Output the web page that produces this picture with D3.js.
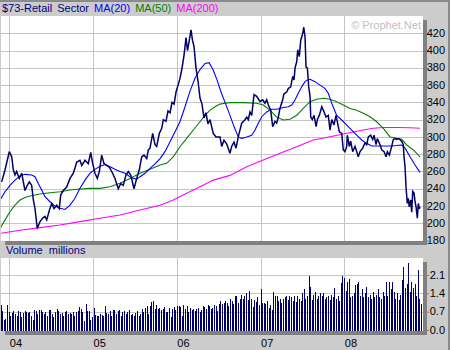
<!DOCTYPE html>
<html><head><meta charset="utf-8">
<script src="https://cdn.jsdelivr.net/npm/d3@7"></script>
<style>
body{margin:0;background:#cccccc}
svg{display:block}
text{font-family:Arial,"Liberation Sans",sans-serif;font-size:11px}
</style>
</head><body><svg width="450" height="350"></svg>
<script>
// ---------- DATA (decimal years / values) ----------
const priceT=[2003.909,2003.949,2004.000,2004.029,2004.048,2004.068,2004.088,2004.119,2004.148,2004.187,2004.215,2004.239,2004.267,2004.287,2004.307,2004.334,2004.367,2004.399,2004.426,2004.447,2004.478,2004.506,2004.534,2004.566,2004.597,2004.614,2004.645,2004.685,2004.725,2004.764,2004.784,2004.805,2004.844,2004.865,2004.904,2004.943,2004.972,2004.996,2005.023,2005.051,2005.075,2005.103,2005.131,2005.163,2005.194,2005.223,2005.262,2005.301,2005.330,2005.361,2005.393,2005.421,2005.450,2005.489,2005.521,2005.552,2005.581,2005.608,2005.641,2005.660,2005.680,2005.712,2005.740,2005.760,2005.791,2005.820,2005.839,2005.871,2005.895,2005.919,2005.943,2005.967,2005.991,2006.015,2006.039,2006.063,2006.087,2006.110,2006.128,2006.146,2006.170,2006.187,2006.205,2006.229,2006.253,2006.277,2006.301,2006.325,2006.348,2006.372,2006.396,2006.436,2006.468,2006.516,2006.536,2006.563,2006.595,2006.635,2006.655,2006.683,2006.707,2006.734,2006.775,2006.814,2006.835,2006.854,2006.874,2006.895,2006.922,2006.954,2006.994,2007.026,2007.053,2007.073,2007.093,2007.121,2007.145,2007.173,2007.193,2007.212,2007.232,2007.264,2007.280,2007.312,2007.331,2007.360,2007.384,2007.400,2007.412,2007.432,2007.444,2007.463,2007.480,2007.504,2007.516,2007.531,2007.543,2007.559,2007.575,2007.591,2007.599,2007.618,2007.639,2007.663,2007.678,2007.702,2007.731,2007.758,2007.782,2007.809,2007.829,2007.850,2007.877,2007.901,2007.916,2007.940,2007.969,2007.988,2008.009,2008.029,2008.036,2008.060,2008.076,2008.100,2008.128,2008.148,2008.167,2008.188,2008.220,2008.247,2008.267,2008.287,2008.315,2008.339,2008.355,2008.379,2008.394,2008.427,2008.447,2008.475,2008.499,2008.514,2008.538,2008.566,2008.585,2008.605,2008.626,2008.645,2008.665,2008.685,2008.704,2008.713,2008.725,2008.737,2008.752,2008.764,2008.776,2008.793,2008.805,2008.817,2008.833,2008.845,2008.857,2008.872,2008.884,2008.896,2008.904];
const priceV=[248,262,283,277,262,256,260,252,258,238,244,248,244,227,217,194,202,206,208,204,215,223,217,221,217,233,238,242,252,258,264,271,273,267,273,269,282,269,258,252,260,279,269,267,265,260,252,240,246,244,256,260,256,240,252,262,277,279,275,285,287,304,291,289,304,310,320,318,330,328,340,338,352,360,368,380,395,415,400,410,424,412,405,380,365,345,338,322,328,315,320,304,300,300,289,296,292,281,289,294,287,300,316,320,323,320,329,325,349,347,341,343,339,343,337,331,312,318,316,323,333,343,350,352,356,358,370,366,380,387,401,393,412,420,427,416,381,380,358,347,323,320,325,312,320,325,335,329,323,325,308,320,314,325,318,306,304,285,283,289,302,289,295,283,289,283,277,283,287,293,291,300,302,297,302,291,298,291,285,283,277,283,279,289,297,298,297,298,297,295,291,277,266,242,223,229,219,227,213,237,235,225,219,206,223,217,219];

const ma20T=[2003.889,2003.949,2004.008,2004.068,2004.128,2004.187,2004.267,2004.307,2004.346,2004.387,2004.426,2004.486,2004.546,2004.605,2004.665,2004.725,2004.784,2004.844,2004.904,2004.964,2005.023,2005.083,2005.143,2005.203,2005.262,2005.322,2005.382,2005.441,2005.481,2005.521,2005.561,2005.620,2005.680,2005.740,2005.800,2005.859,2005.919,2005.979,2006.038,2006.098,2006.158,2006.217,2006.277,2006.337,2006.385,2006.432,2006.480,2006.528,2006.576,2006.635,2006.683,2006.734,2006.775,2006.835,2006.894,2006.934,2006.973,2007.014,2007.073,2007.133,2007.193,2007.232,2007.272,2007.331,2007.372,2007.411,2007.451,2007.491,2007.531,2007.558,2007.591,2007.650,2007.710,2007.770,2007.809,2007.850,2007.909,2007.969,2008.029,2008.088,2008.148,2008.208,2008.267,2008.327,2008.387,2008.447,2008.506,2008.566,2008.626,2008.685,2008.725,2008.785,2008.845,2008.904];
const ma20V=[227,236.6,244,250,254.8,256.7,256,254,246,238.5,230.8,225,220,217.4,216,221,229,240.5,250,258,262.5,266,268,265.5,262.5,260,258,254,252,251,254,258,263.7,268.7,275,283,294.5,306,317.6,335,353,368,378,385,386,378,366,352,340,325,312,300,298.4,300,302,308,315.8,323.4,329,332,332,333,334,335,337,342.8,350.5,358,364,366,366.7,364,360,356,350.5,339,325,319.6,313.8,308,302,296.5,292.6,289.5,289.5,289.5,289.5,289.5,290,290.7,287,277,267.5,259];

const ma50T=[2003.889,2003.949,2004.008,2004.068,2004.128,2004.187,2004.247,2004.367,2004.486,2004.605,2004.725,2004.844,2004.964,2005.083,2005.203,2005.322,2005.441,2005.561,2005.680,2005.800,2005.879,2005.958,2006.038,2006.118,2006.197,2006.277,2006.337,2006.397,2006.456,2006.516,2006.576,2006.635,2006.794,2006.954,2007.033,2007.113,2007.193,2007.272,2007.352,2007.432,2007.510,2007.591,2007.670,2007.749,2007.829,2007.909,2007.988,2008.068,2008.148,2008.227,2008.307,2008.387,2008.466,2008.546,2008.626,2008.685,2008.745,2008.824,2008.904];
const ma50V=[194,204,213.4,221,227,230,231.6,234,235.4,236.6,238.5,239.7,240.5,240.5,242.4,246.3,252,258,262.5,267.5,269.5,277,288.7,298.4,308,317.6,325,331,335,338,339,339.7,339.7,339,337,331,323,319.6,320.4,325,333,340.8,343.6,344.7,343.6,340.8,337,333,331,327.4,323.4,317.6,310,300,298.4,297.3,290.7,285,277];

const ma200T=[2003.889,2004.128,2004.367,2004.605,2004.844,2005.083,2005.322,2005.561,2005.800,2005.958,2006.118,2006.277,2006.436,2006.635,2006.835,2007.033,2007.232,2007.432,2007.630,2007.829,2008.029,2008.227,2008.346,2008.466,2008.626,2008.785,2008.904];
const ma200V=[188.4,192,195,198,202,205.8,209.6,215.4,221,227,234.7,242.4,250,255.5,265.5,273.3,281,288.7,296.5,300.3,304.2,308,310,311,311,310.7,310];

const volStart=2003.901; // first weekly bar (decimal year)
const volumeV=[0.95,0.73,0.37,0.42,0.95,0.7,0.55,0.65,0.72,0.6,
0.55,0.72,0.68,0.5,0.65,0.72,0.7,0.65,0.68,0.55,
0.4,0.75,0.72,0.6,0.78,0.75,0.7,0.62,0.68,0.55,
0.75,0.75,0.6,0.5,0.68,0.8,0.72,0.6,0.65,0.55,
0.7,0.72,0.62,0.65,0.6,0.7,0.55,0.68,0.72,0.88,
0.82,0.7,0.35,0.98,0.72,0.72,0.4,0.48,0.85,0.58,
0.52,0.55,0.6,0.58,0.55,0.92,0.65,0.6,0.72,0.55,
0.75,0.75,0.62,0.72,0.75,0.55,0.7,0.72,0.6,0.68,
0.75,0.58,0.6,0.55,0.65,0.72,0.55,0.62,0.8,0.68,
0.85,0.9,0.6,0.92,1.08,1.12,0.8,0.95,0.82,0.85,
0.75,0.82,0.88,0.7,0.68,0.85,0.5,0.82,0.88,0.78,
0.9,0.9,0.88,0.52,0.95,0.82,0.92,0.7,0.85,0.75,
0.82,0.72,0.8,0.85,0.7,0.75,0.9,0.88,0.82,0.95,
0.92,0.8,0.85,0.95,0.9,0.72,1.0,1.12,0.98,1.05,
1.12,1.05,0.92,1.2,1.1,1.0,1.28,1.3,1.05,1.2,
1.35,1.18,1.28,1.4,1.15,1.48,1.2,0.88,1.15,1.08,
1.25,0.95,1.55,1.05,1.05,0.98,1.1,0.85,0.95,0.78,
1.45,1.3,1.3,1.1,1.2,1.05,1.18,1.25,1.3,1.15,
1.3,1.25,1.1,1.3,1.08,1.3,1.2,1.12,1.4,1.55,
1.2,1.3,2.05,1.65,1.15,1.35,1.45,1.2,1.3,1.4,
1.3,1.4,1.2,1.25,1.3,1.15,1.35,1.25,1.6,1.2,
1.3,1.1,1.8,2.08,2.0,1.5,1.85,1.95,1.25,1.3,
1.4,1.7,1.75,1.85,1.3,1.55,1.25,1.4,1.65,1.25,
1.35,1.2,1.45,1.25,1.35,1.55,1.25,1.2,1.45,1.3,
1.85,1.3,1.85,1.55,1.85,1.45,1.2,1.4,1.15,1.35,
1.9,2.42,1.6,1.75,2.54,1.45,1.85,1.6,1.75,1.3,2.3,1.2,1.0];

const years=[2004,2005,2006,2007,2008];
const priceTicks=[180,200,220,240,260,280,300,320,340,360,380,400,420];
const volTicks=[0,0.7,1.4,2.1];

// ---------- LAYOUT ----------
const svg=d3.select("svg");
const W=450,H=350;
const P={l:1,r:423,t:16,b:241};
const V={l:1,r:423,t:258,b:331};
const sh=4;
const x=d3.scaleLinear().domain([2004,2008]).range([9.3,344.3]);
const y=d3.scaleLinear().domain([180,440]).range([240.6,16]);
const yv=d3.scaleLinear().domain([0,2.75]).range([330,258]);
const FONT="Arial,'Liberation Sans',sans-serif";

svg.append("rect").attr("width",W).attr("height",H).attr("fill","#cccccc");
svg.append("rect").attr("x",0).attr("y",0).attr("width",W).attr("height",2).attr("fill","#8a8a8a");
svg.append("rect").attr("x",W-2).attr("y",0).attr("width",2).attr("height",H).attr("fill","#8a8a8a");

function panel(B,id){
  svg.append("rect").attr("x",B.l+sh).attr("y",B.t+sh).attr("width",B.r-B.l).attr("height",B.b-B.t).attr("fill","#808080");
  svg.append("rect").attr("x",B.l).attr("y",B.t).attr("width",B.r-B.l).attr("height",B.b-B.t).attr("fill","#ffffff");
  svg.append("clipPath").attr("id",id).append("rect").attr("x",B.l).attr("y",B.t).attr("width",B.r-B.l).attr("height",B.b-B.t);
  const g=svg.append("g").attr("clip-path",`url(#${id})`);
  g.selectAll("line.v").data(years).join("line").attr("class","v")
    .attr("x1",d=>Math.round(x(d))+0.5).attr("x2",d=>Math.round(x(d))+0.5)
    .attr("y1",B.t).attr("y2",B.b).attr("stroke","#c4c4c4").attr("stroke-width",1);
  return g;
}

// ---------- PRICE PANEL ----------
const gp=panel(P,"cp");
gp.selectAll("line.h").data(priceTicks.filter(d=>d>180)).join("line").attr("class","h")
  .attr("x1",P.l).attr("x2",P.r).attr("y1",d=>Math.round(y(d))+0.5).attr("y2",d=>Math.round(y(d))+0.5)
  .attr("stroke","#c4c4c4").attr("stroke-width",1);

gp.append("text").attr("x",421).attr("y",29).attr("text-anchor","end").attr("fill","#c0c0c0").text("© Prophet.Net");

const line=d3.line().x(d=>x(d[0])).y(d=>y(d[1]));
gp.append("path").datum(d3.zip(ma200T,ma200V)).attr("d",line).attr("fill","none").attr("stroke","#ff00ff").attr("stroke-width",1.1);
gp.append("path").datum(d3.zip(ma50T,ma50V)).attr("d",line).attr("fill","none").attr("stroke","#008000").attr("stroke-width",1.1);
gp.append("path").datum(d3.zip(ma20T,ma20V)).attr("d",line).attr("fill","none").attr("stroke","#0000ff").attr("stroke-width",1.1);
gp.append("path").datum(d3.zip(priceT,priceV)).attr("d",line).attr("fill","none").attr("stroke","#000066").attr("stroke-width",1.5).attr("stroke-linejoin","miter").attr("stroke-miterlimit",3);

const ay=svg.append("g").attr("transform",`translate(${P.r+sh},0)`)
  .call(d3.axisRight(y).tickValues(priceTicks).tickSize(2).tickFormat(d3.format("d")));
ay.select(".domain").remove();
ay.selectAll("line").attr("stroke","#808080");
ay.selectAll("text").attr("x",18).attr("dy","0.28em").attr("text-anchor","end").attr("fill","#000").style("font-size","11px").style("font-family",FONT);

// title
const title=svg.append("text").attr("x",2).attr("y",12).attr("xml:space","preserve").style("word-spacing","2px");
title.append("tspan").attr("fill","#000080").text("$73-Retail Sector ");
title.append("tspan").attr("fill","#0000ff").text("MA(20) ");
title.append("tspan").attr("fill","#008000").text("MA(50) ");
title.append("tspan").attr("fill","#ff00ff").text("MA(200)");

// ---------- VOLUME PANEL ----------
svg.append("text").attr("x",6).attr("y",254).attr("fill","#000080").attr("xml:space","preserve").text("Volume  millions");
const gv=panel(V,"cv");
gv.selectAll("line.h").data(volTicks.filter(d=>d>0)).join("line").attr("class","h")
  .attr("x1",V.l).attr("x2",V.r).attr("y1",d=>Math.round(yv(d))+0.5).attr("y2",d=>Math.round(yv(d))+0.5)
  .attr("stroke","#c4c4c4").attr("stroke-width",1);
const weekYr=7/365.25;
gv.selectAll("rect.bar").data(volumeV).join("rect").attr("class","bar")
  .attr("x",(d,i)=>Math.floor(x(volStart+i*weekYr))).attr("width",1)
  .attr("y",d=>Math.round(yv(d))).attr("height",d=>Math.round(yv(0))-Math.round(yv(d))+1)
  .attr("fill","#000066").attr("shape-rendering","crispEdges");

const av=svg.append("g").attr("transform",`translate(${V.r+sh},0)`)
  .call(d3.axisRight(yv).tickValues(volTicks).tickSize(2).tickFormat(d3.format(".1f")));
av.select(".domain").remove();
av.selectAll("line").attr("stroke","#808080");
av.selectAll("text").attr("x",18).attr("dy","0.28em").attr("text-anchor","end").attr("fill","#000").style("font-size","11px").style("font-family",FONT);

// year axis
const ax=svg.append("g").attr("transform","translate(0,335)")
  .call(d3.axisBottom(x).tickValues(years).tickSize(0).tickFormat(d=>String(d).slice(2)));
ax.select(".domain").remove();
ax.selectAll("text").attr("x",0).attr("y",12).attr("dy",0).attr("text-anchor","start").attr("fill","#000").style("font-size","11px").style("font-family",FONT);
</script>
</body></html>
